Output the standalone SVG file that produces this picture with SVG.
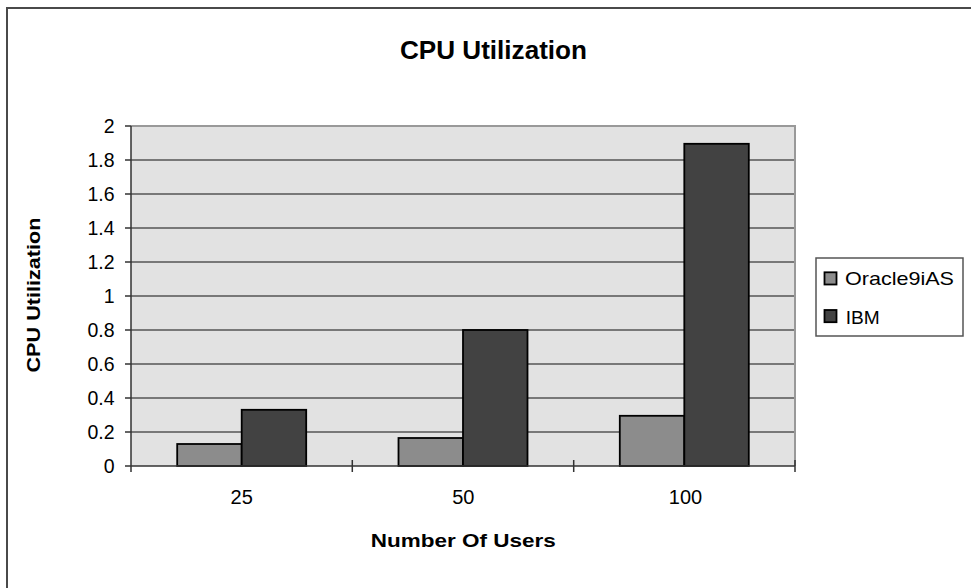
<svg xmlns="http://www.w3.org/2000/svg" width="971" height="588" viewBox="0 0 971 588">
<style>
text{font-family:"Liberation Sans",Arial,sans-serif;fill:#000}
.b{font-weight:bold}
.tick{font-size:19.5px;text-anchor:end}
.cat{font-size:20px;text-anchor:middle}
.grid{stroke:#555;stroke-width:1.3}
.axis{stroke:#333;stroke-width:1.5;fill:none}
.ora{fill:#8c8c8c;stroke:#000;stroke-width:1.8}
.ibm{fill:#424242;stroke:#000;stroke-width:1.8}
</style>
<rect x="0" y="0" width="971" height="588" fill="#fff"/>
<path d="M7,588 V8 H971" fill="none" stroke="#4a4a4a" stroke-width="2"/>
<g id="title"><text class="b" x="400" y="59" font-size="25" textLength="187" lengthAdjust="spacingAndGlyphs">CPU Utilization</text></g>
<g id="plot">
<rect x="131" y="126" width="664" height="340" fill="#e2e2e2"/>
<g id="gridlines">
<line class="grid" x1="131" x2="795" y1="432" y2="432"/>
<line class="grid" x1="131" x2="795" y1="398" y2="398"/>
<line class="grid" x1="131" x2="795" y1="364" y2="364"/>
<line class="grid" x1="131" x2="795" y1="330" y2="330"/>
<line class="grid" x1="131" x2="795" y1="296" y2="296"/>
<line class="grid" x1="131" x2="795" y1="262" y2="262"/>
<line class="grid" x1="131" x2="795" y1="228" y2="228"/>
<line class="grid" x1="131" x2="795" y1="194" y2="194"/>
<line class="grid" x1="131" x2="795" y1="160" y2="160"/>
</g>
<path d="M131,126 H795 V466" fill="none" stroke="#999" stroke-width="2"/>
</g>
<g id="bars">
<rect class="ora" x="177.2" y="444" width="64.5" height="22"/>
<rect class="ibm" x="241.7" y="409.8" width="64.5" height="56.2"/>
<rect class="ora" x="398.5" y="438" width="64.5" height="28"/>
<rect class="ibm" x="463" y="330" width="64.5" height="136"/>
<rect class="ora" x="619.8" y="415.8" width="64.5" height="50.2"/>
<rect class="ibm" x="684.3" y="143.8" width="64.5" height="322.2"/>
</g>
<g id="axes">
<path class="axis" d="M131,126 V472 M131,466 H795"/>
<path class="axis" d="M125,126 H131 M125,160 H131 M125,194 H131 M125,228 H131 M125,262 H131 M125,296 H131 M125,330 H131 M125,364 H131 M125,398 H131 M125,432 H131 M125,466 H131"/>
<path class="axis" d="M352.3,460 V472 M573.7,460 V472 M795,460 V472"/>
</g>
<g id="ytick-labels">
<text class="tick" x="114.5" y="472.7">0</text>
<text class="tick" x="114.5" y="438.7">0.2</text>
<text class="tick" x="114.5" y="404.7">0.4</text>
<text class="tick" x="114.5" y="370.7">0.6</text>
<text class="tick" x="114.5" y="336.7">0.8</text>
<text class="tick" x="114.5" y="302.7">1</text>
<text class="tick" x="114.5" y="268.7">1.2</text>
<text class="tick" x="114.5" y="234.7">1.4</text>
<text class="tick" x="114.5" y="200.7">1.6</text>
<text class="tick" x="114.5" y="166.7">1.8</text>
<text class="tick" x="114.5" y="132.7">2</text>
</g>
<g id="xcat-labels">
<text class="cat" x="241.7" y="504">25</text>
<text class="cat" x="463.3" y="504">50</text>
<text class="cat" x="685.5" y="504">100</text>
</g>
<g id="x-title"><text class="b" x="370.7" y="546.7" font-size="18.5" textLength="185" lengthAdjust="spacingAndGlyphs">Number Of Users</text></g>
<g id="y-title"><text class="b" transform="translate(40,295) rotate(-90)" x="0" y="0" font-size="19" text-anchor="middle" textLength="155" lengthAdjust="spacingAndGlyphs">CPU Utilization</text></g>
<g id="legend">
<rect x="816" y="258" width="147" height="78" fill="#fff" stroke="#555" stroke-width="1.5"/>
<rect class="ora" x="824.5" y="272.3" width="12" height="12.2" stroke-width="1.5"/>
<text x="845" y="284.5" font-size="18.5" textLength="109" lengthAdjust="spacingAndGlyphs">Oracle9iAS</text>
<rect class="ibm" x="824.5" y="310" width="12" height="12.2" stroke-width="1.5"/>
<text x="845.7" y="323.8" font-size="19" textLength="34" lengthAdjust="spacingAndGlyphs">IBM</text>
</g>
</svg>
